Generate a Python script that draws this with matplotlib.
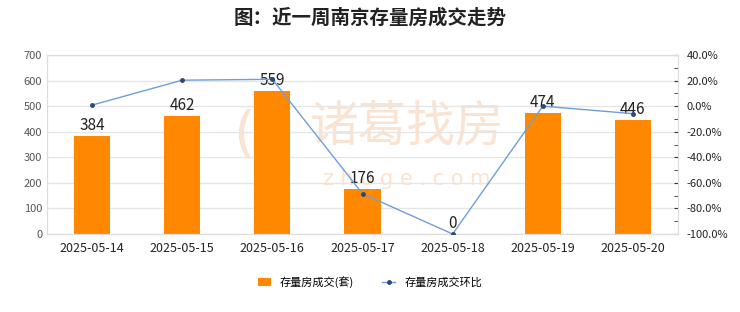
import matplotlib.pyplot as plt
from matplotlib.ticker import MultipleLocator, FuncFormatter

plt.rcParams['font.family'] = ['Noto Sans CJK SC', 'DejaVu Sans']

dates = ["2025-05-14", "2025-05-15", "2025-05-16", "2025-05-17",
         "2025-05-18", "2025-05-19", "2025-05-20"]
deals = [384, 462, 559, 176, 0, 474, 446]
ring = [0.8, 20.3, 21.0, -68.5, -100.0, 0.0, -5.9]

fig = plt.figure(figsize=(7.4, 3.12), dpi=100)
ax1 = fig.add_axes([47 / 740, 1 - 234 / 312, 631 / 740, 179 / 312])
x = range(len(dates))

# watermark, behind the bars
ax1.text(0.57, 0.6, "诸葛找房", transform=ax1.transAxes, ha="center", va="center",
         fontsize=35, color="#fae3d0", zorder=0.5)
ax1.text(0.57, 0.31, "z h u g e . c o m", transform=ax1.transAxes, ha="center",
         va="center", fontsize=15, color="#fae3d0", zorder=0.5, family="DejaVu Sans")
ax1.text(0.345, 0.55, "( )", transform=ax1.transAxes, ha="center", va="center",
         fontsize=40, color="#fae3d0", zorder=0.5, family="DejaVu Sans")

ax1.bar(x, deals, width=0.4, color="#ff8800", label="存量房成交(套)", zorder=2)
for xi, v in zip(x, deals):
    ax1.text(xi, v + 8, str(v), ha="center", va="bottom", fontsize=11,
             color="#222222", zorder=5)

ax1.set_ylim(0, 700)
ax1.set_xlim(-0.5, 6.5)
ax1.yaxis.set_major_locator(MultipleLocator(100))
ax1.set_xticks(list(x))
ax1.set_xticklabels(dates, fontsize=9, color="#222222")
ax1.tick_params(axis="y", labelsize=8, labelcolor="#555555", length=0)
ax1.tick_params(axis="x", length=0, pad=6)
ax1.grid(axis="y", color="#e6e6e6", linewidth=1, zorder=0)
ax1.set_axisbelow(True)
for s in ax1.spines.values():
    s.set_color("#dddddd")

ax2 = ax1.twinx()
ax2.plot(list(x), ring, color="#6f9fd8", linewidth=1, marker="o", markersize=2.5,
         markerfacecolor="#2c4a70", markeredgecolor="#2c4a70",
         label="存量房成交环比", zorder=3)
ax2.set_ylim(-100, 40)
ax2.yaxis.set_major_locator(MultipleLocator(20))
ax2.yaxis.set_minor_locator(MultipleLocator(10))
ax2.yaxis.set_major_formatter(FuncFormatter(lambda v, p: "%.1f%%" % v))
ax2.tick_params(axis="y", which="both", direction="in", length=3, labelsize=8,
                color="#333333", labelcolor="#222222", pad=6)
for s in ax2.spines.values():
    s.set_color("#dddddd")

fig.suptitle("图：近一周南京存量房成交走势", fontsize=14, fontweight="bold",
             y=0.975, color="#222222")

h1, l1 = ax1.get_legend_handles_labels()
h2, l2 = ax2.get_legend_handles_labels()
fig.legend(h1 + h2, l1 + l2, loc="center", bbox_to_anchor=(0.5, 0.095), ncol=2,
           frameon=False, fontsize=8, handlelength=1.2, handleheight=0.7,
           columnspacing=2.5)

fig.savefig("out.png", dpi=100, facecolor="white")
